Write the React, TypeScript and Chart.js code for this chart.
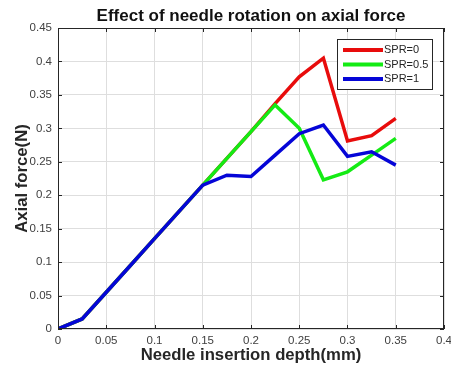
import React, { useEffect, useRef } from "react";
import { Chart, registerables } from "chart.js";

Chart.register(...registerables);

const depth = [0, 0.025, 0.05, 0.075, 0.1, 0.125, 0.15, 0.175, 0.2, 0.225, 0.25, 0.275, 0.3, 0.325, 0.35];
const spr0 = [0, 0.015, 0.055, 0.095, 0.135, 0.175, 0.215, 0.255, 0.295, 0.337, 0.377, 0.405, 0.281, 0.289, 0.315];
const spr05 = [0, 0.015, 0.055, 0.095, 0.135, 0.175, 0.215, 0.255, 0.295, 0.335, 0.3, 0.223, 0.235, 0.26, 0.285];
const spr1 = [0, 0.015, 0.055, 0.095, 0.135, 0.175, 0.215, 0.23, 0.228, 0.26, 0.292, 0.305, 0.258, 0.265, 0.245];
const seriesLabels = ["SPR=0", "SPR=0.5", "SPR=1"];
const seriesColors = ["rgb(232,12,12)", "rgb(20,235,20)", "rgb(5,5,215)"];
const xTicks = [0, 0.05, 0.1, 0.15, 0.2, 0.25, 0.3, 0.35, 0.4];
const yTicks = [0, 0.05, 0.1, 0.15, 0.2, 0.25, 0.3, 0.35, 0.4, 0.45];

const FONT = "'Liberation Sans', Arial, sans-serif";

const boxPlugin = {
  id: "boxPlugin",
  afterDatasetsDraw(chart: any) {
    const { ctx, chartArea } = chart;
    const { left, right, top, bottom } = chartArea;
    const xs = chart.scales.x;
    const ys = chart.scales.y;
    ctx.save();
    ctx.strokeStyle = "#262626";
    ctx.lineWidth = 1;
    ctx.strokeRect(left + 0.5, top + 0.5, right - left - 1, bottom - top - 1);
    ctx.beginPath();
    xTicks.forEach((v) => {
      const px = Math.round(xs.getPixelForValue(v)) + 0.5;
      ctx.moveTo(px, bottom);
      ctx.lineTo(px, bottom - 4);
      ctx.moveTo(px, top);
      ctx.lineTo(px, top + 4);
    });
    yTicks.forEach((v) => {
      const py = Math.round(ys.getPixelForValue(v)) + 0.5;
      ctx.moveTo(left, py);
      ctx.lineTo(left + 4, py);
      ctx.moveTo(right, py);
      ctx.lineTo(right - 4, py);
    });
    ctx.stroke();

    // legend
    const lx = 337, ly = 39, lw = 95, lh = 50;
    ctx.fillStyle = "#ffffff";
    ctx.fillRect(lx, ly, lw, lh);
    ctx.strokeStyle = "#262626";
    ctx.strokeRect(lx + 0.5, ly + 0.5, lw, lh);
    ctx.font = "11px " + FONT;
    ctx.textBaseline = "middle";
    ctx.textAlign = "left";
    seriesLabels.forEach((lab, i) => {
      const y = ly + 11 + i * 14.5;
      ctx.strokeStyle = seriesColors[i];
      ctx.lineWidth = 4;
      ctx.beginPath();
      ctx.moveTo(lx + 6, y);
      ctx.lineTo(lx + 46, y);
      ctx.stroke();
      ctx.fillStyle = "#262626";
      ctx.fillText(lab, lx + 47, y);
    });
    ctx.restore();
  },
};

const fmt = (v: number) => String(Number(Number(v).toFixed(3)));

export default function App() {
  const ref = useRef<HTMLCanvasElement | null>(null);
  useEffect(() => {
    document.body.style.margin = "0";
    const mk = (vals: number[]) => depth.map((x, i) => ({ x, y: vals[i] }));
    const allSeries = [spr0, spr05, spr1];
    const chart = new Chart(ref.current as HTMLCanvasElement, {
      type: "line",
      data: {
        datasets: allSeries.map((vals, i) => ({
          label: seriesLabels[i],
          data: mk(vals),
          borderColor: seriesColors[i],
          backgroundColor: seriesColors[i],
          borderWidth: 3.5,
          pointRadius: 0,
          tension: 0,
          order: 3 - i,
        })),
      },
      options: {
        animation: false,
        responsive: false,
        maintainAspectRatio: false,
        layout: { padding: { left: 0, right: 7, top: 0, bottom: 0 } },
        plugins: {
          legend: { display: false },
          tooltip: { enabled: false },
          title: {
            display: true,
            text: "Effect of needle rotation on axial force",
            fullSize: false,
            color: "#111111",
            font: { family: FONT, size: 17, weight: "bold" },
            padding: { top: 6, bottom: 1.6 },
          },
        },
        scales: {
          x: {
            type: "linear",
            min: 0,
            max: 0.4,
            afterFit: (s: any) => { s.height = 49; s.paddingRight = 0; s.paddingLeft = 0; },
            afterBuildTicks: (s: any) => { s.ticks = xTicks.map((v) => ({ value: v })); },
            ticks: {
              callback: (v: any) => fmt(v),
              color: "#404040",
              font: { family: FONT, size: 11.5 },
              padding: 5,
              maxRotation: 0,
            },
            grid: { color: "#dedede", drawTicks: false },
            border: { display: false },
            title: {
              display: true,
              text: "Needle insertion depth(mm)",
              color: "#262626",
              font: { family: FONT, size: 16.7, weight: "bold" },
              padding: { top: 0, bottom: 13 },
            },
          },
          y: {
            type: "linear",
            min: 0,
            max: 0.45,
            afterFit: (s: any) => { s.width = 58; },
            afterBuildTicks: (s: any) => { s.ticks = yTicks.map((v) => ({ value: v })); },
            ticks: {
              callback: (v: any) => fmt(v),
              color: "#404040",
              font: { family: FONT, size: 11.5 },
              padding: 6,
            },
            grid: { color: "#dedede", drawTicks: false },
            border: { display: false },
            title: {
              display: true,
              text: "Axial force(N)",
              color: "#262626",
              font: { family: FONT, size: 16.7, weight: "bold" },
              padding: { top: 12, bottom: 0 },
            },
          },
        },
      },
      plugins: [boxPlugin],
    } as any);
    return () => chart.destroy();
  }, []);
  return (
    <div style={{ position: "absolute", left: 0, top: 0, width: 451, height: 378, background: "#fff" }}>
      <canvas ref={ref} width={451} height={378} style={{ display: "block" }} />
    </div>
  );
}
